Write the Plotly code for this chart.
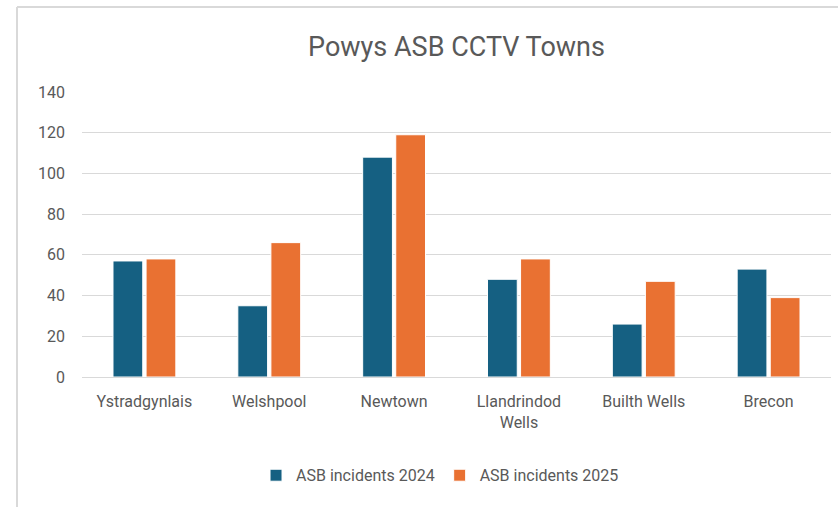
import plotly.graph_objects as go

towns = ["Ystradgynlais", "Welshpool", "Newtown", "Llandrindod<br>Wells", "Builth Wells", "Brecon"]
incidents_2024 = [57, 35, 108, 48, 26, 53]
incidents_2025 = [58, 66, 119, 58, 47, 39]
y_ticks = [0, 20, 40, 60, 80, 100, 120, 140]

FONT = "Roboto, Arial, sans-serif"
GREY = "#595959"

fig = go.Figure()
fig.add_trace(go.Bar(
    x=towns, y=incidents_2024, name="ASB incidents 2024",
    marker=dict(color="#156082", line=dict(color="#ffffff", width=1)),
))
fig.add_trace(go.Bar(
    x=towns, y=incidents_2025, name="ASB incidents 2025",
    marker=dict(color="#E97132", line=dict(color="#ffffff", width=1)),
))

fig.update_layout(
    width=838, height=507,
    margin=dict(l=82, r=7, t=92, b=130),
    paper_bgcolor="white", plot_bgcolor="white",
    barmode="group", bargap=0.47, bargroupgap=0.1,
    font=dict(family=FONT, color=GREY, size=16),
    title=dict(text="Powys ASB CCTV Towns", x=0.5, xref="paper", xanchor="center",
               y=1 - 47 / 507, yref="container", yanchor="middle",
               font=dict(family=FONT, size=27, color=GREY)),
    showlegend=True,
    legend=dict(orientation="h", x=0.478, xanchor="center", y=-0.345, yanchor="middle",
                font=dict(size=16, color=GREY), itemwidth=30, traceorder="normal"),
    xaxis=dict(showgrid=False, zeroline=False, showline=False, ticks="",
               tickfont=dict(size=16, color=GREY), ticklabelstandoff=13),
    yaxis=dict(range=[0, 140], tickvals=y_ticks, showgrid=True, gridcolor="#d9d9d9",
               gridwidth=1, zeroline=True, zerolinecolor="#d9d9d9", zerolinewidth=1,
               showline=False, ticks="", tickfont=dict(size=16, color=GREY),
               ticklabelstandoff=16),
    shapes=[
        # chart frame (left and top edges)
        dict(type="line", xref="paper", yref="paper",
             x0=(17 - 82) / 749, x1=(17 - 82) / 749, y0=(377 - 507) / 285, y1=(377 - 7) / 285,
             line=dict(color="#d9d9d9", width=2)),
        dict(type="line", xref="paper", yref="paper",
             x0=(17 - 82) / 749, x1=(838 - 82) / 749, y0=(377 - 7) / 285, y1=(377 - 7) / 285,
             line=dict(color="#d9d9d9", width=2)),
    ],
)

fig.write_html("out.html")
